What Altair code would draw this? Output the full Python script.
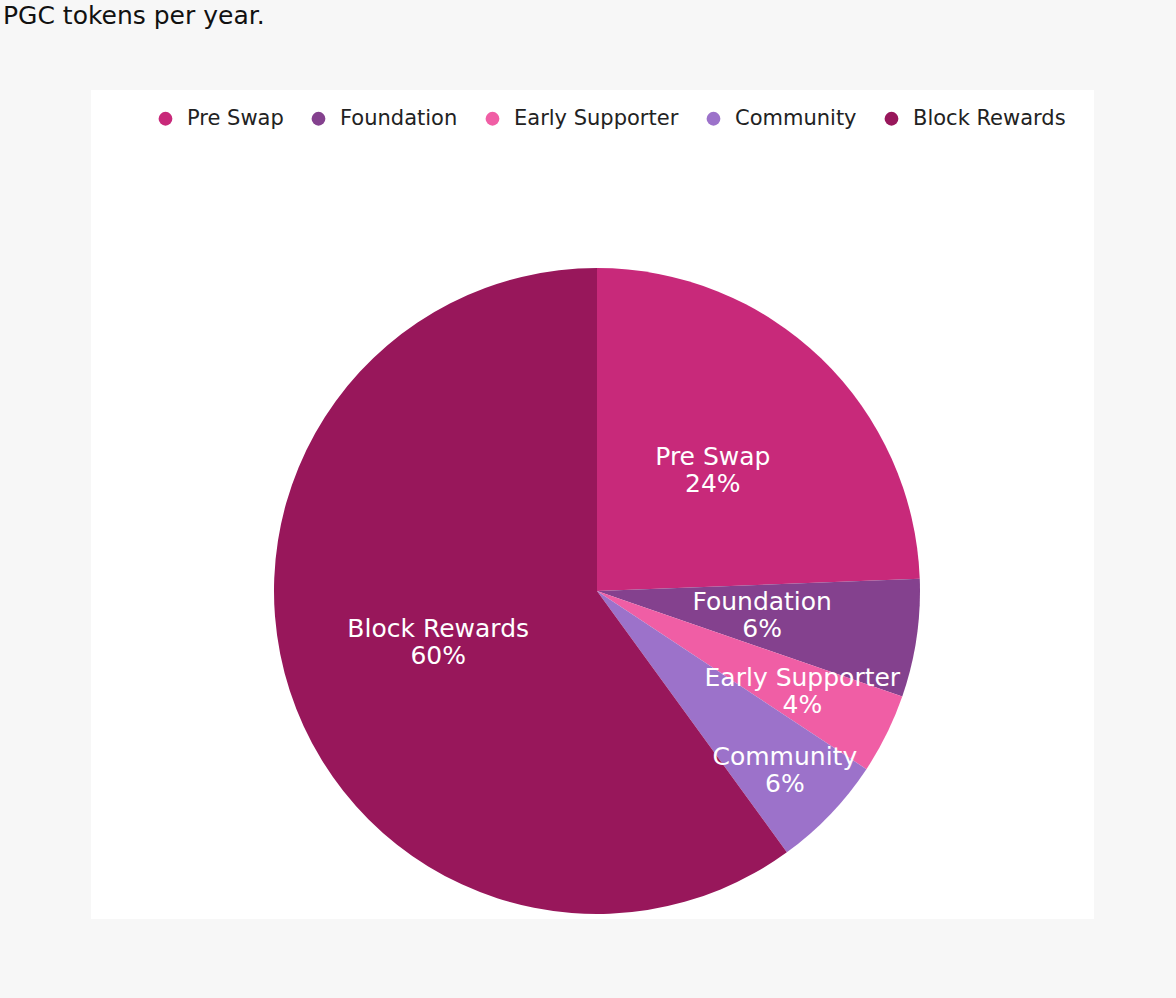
import altair as alt
import pandas as pd

categories = ["Pre Swap", "Foundation", "Early Supporter", "Community", "Block Rewards"]
shares = [24.4, 5.9, 4.0, 5.7, 60.0]
colors = ["#C8297A", "#84418E", "#F05EA5", "#9C72CA", "#98175B"]

df = pd.DataFrame({"category": categories, "share": shares, "idx": list(range(len(categories)))})

FONT = "DejaVu Sans"

base = alt.Chart(df).encode(
    theta=alt.Theta("share:Q", stack=True),
    order=alt.Order("idx:Q", sort="ascending"),
)

arcs = base.mark_arc(radius=323, stroke=None).encode(
    x=alt.value(506),
    y=alt.value(501),
    color=alt.Color(
        "category:N",
        scale=alt.Scale(domain=categories, range=colors),
        sort=categories,
        legend=alt.Legend(
            orient="none",
            direction="horizontal",
            legendX=64,
            legendY=18,
            title=None,
            symbolType="circle",
            symbolSize=190,
            symbolStrokeWidth=0,
            labelFont=FONT,
            labelFontSize=21,
            labelColor="#222222",
            labelOffset=11,
            labelLimit=400,
            columnPadding=24,
        ),
    ),
)


def label_layer(names, r):
    test = " || ".join(f"datum.category === '{n}'" for n in names)
    return (
        base.transform_calculate(
            label="datum.category + '\\n' + format(datum.share, '.0f') + '%'"
        )
        .mark_text(
            font=FONT, fontSize=25, color="white", lineBreak="\n",
            align="center", baseline="middle", lineHeight=27, radius=r, dy=-14,
        )
        .encode(
            x=alt.value(506),
            y=alt.value(501),
            text="label:N",
            opacity=alt.condition(test, alt.value(1), alt.value(0)),
        )
    )


labels_main = label_layer(["Pre Swap", "Block Rewards", "Foundation"], 167)
labels_es = label_layer(["Early Supporter"], 229)
labels_co = label_layer(["Community"], 260)

chart = (
    alt.layer(arcs, labels_main, labels_es, labels_co)
    .properties(
        width=1003,
        height=829,
        autosize=alt.AutoSizeParams(type="none"),
        padding={"left": 91, "top": 90, "right": 82, "bottom": 79},
        background="#F7F7F7",
        title=alt.TitleParams(
            "PGC tokens per year.",
            anchor="start",
            frame="group",
            offset=0,
            dx=-88,
            dy=-41,
            font=FONT,
            fontSize=25,
            fontWeight="normal",
            color="#111111",
            baseline="alphabetic",
        ),
    )
    .configure_view(fill="white", stroke=None)
)

chart.save("out.html", embed_options={"renderer": "svg", "actions": False})
